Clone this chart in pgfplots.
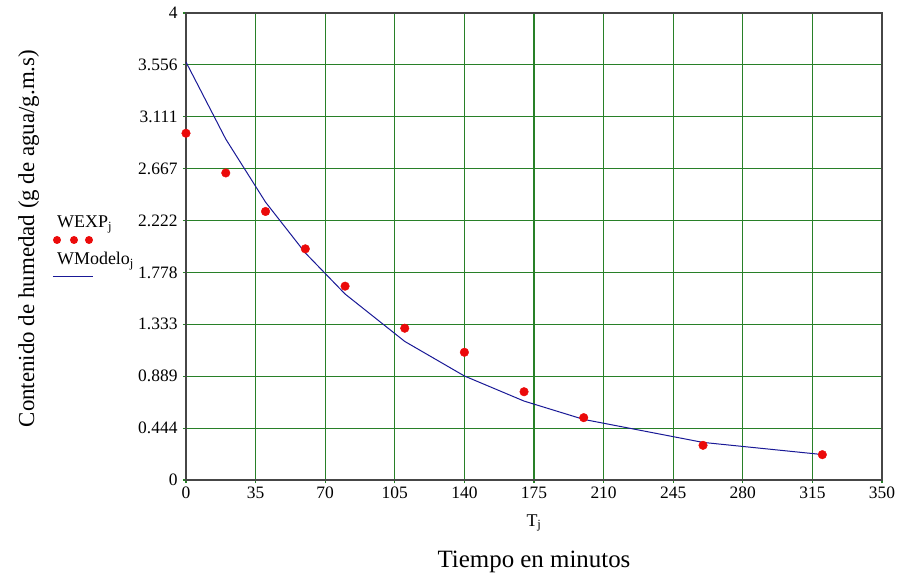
\documentclass[border=0pt]{standalone}
\usepackage{pgfplots}
\pgfplotsset{compat=1.18}
\usepackage{fontspec}
\setmainfont{Liberation Serif}
\definecolor{gridgreen}{RGB}{40,128,40}
\definecolor{modelblue}{RGB}{25,25,150}
\definecolor{ptred}{RGB}{235,10,10}
\definecolor{boxgray}{RGB}{70,70,70}
\begin{document}
\begin{tikzpicture}
\begin{axis}[
  at={(0,0)}, anchor=south west,
  scale only axis, width=696bp, height=467bp,
  xmin=0, xmax=350, ymin=0, ymax=4,
  xtick={0,35,...,350},
  ytick={0,0.4444,0.8889,1.3333,1.7778,2.2222,2.6667,3.1111,3.5556,4},
  yticklabels={0,0.444,0.889,1.333,1.778,2.222,2.667,3.111,3.556,4},
  grid=major,
  major grid style={gridgreen, line width=1.2bp},
  axis line style={boxgray, line width=1.3bp},
  tick style={gridgreen, line width=1.2bp},
  xtick pos=bottom, ytick pos=left,
  tick align=outside, major tick length=3bp,
  /pgf/number format/assume math mode=true,
  tick label style={font=\fontsize{17.5}{20}\selectfont, black},
  yticklabel style={xshift=-2bp},
  ylabel={Contenido de humedad (g de agua/g.m.s)},
  ylabel style={font=\fontsize{23}{26}\selectfont, at={(axis description cs:-0.226,0.517)}, anchor=center},
  clip=true,
]
\addplot[only marks, mark=*, mark size=4.3bp, ptred, mark options={draw=ptred, fill=ptred}] table {
x y
0 2.97
20 2.63
40 2.30
60 1.98
80 1.66
110 1.30
140 1.094
170 0.756
200 0.534
260 0.297
320 0.217
};
\addplot[modelblue, line width=1bp] table {
x y
0 3.58
20 2.92
40 2.38
60 1.945
80 1.593
110 1.187
140 0.891
170 0.676
200 0.519
260 0.322
320 0.218
};
\end{axis}
\node[font=\fontsize{18}{20}\selectfont] at (348bp,-43bp) {T\textsubscript{j}};
\node[font=\fontsize{25}{28}\selectfont] at (348bp,-82bp) {Tiempo en minutos};
% legend
\node[anchor=base west, inner sep=0pt, font=\fontsize{18}{20}\selectfont] at (-129bp,252bp) {WEXP\textsubscript{j}};
\fill[ptred] (-129bp,240bp) circle (4bp);
\fill[ptred] (-112bp,240bp) circle (4bp);
\fill[ptred] (-97bp,240bp) circle (4bp);
\node[anchor=base west, inner sep=0pt, font=\fontsize{18}{20}\selectfont] at (-129bp,215bp) {WModelo\textsubscript{j}};
\draw[modelblue, line width=1bp] (-133bp,203bp) -- (-93bp,203bp);
\pgfresetboundingbox
\path (-186bp,-98bp) rectangle (720bp,480bp);
\end{tikzpicture}
\end{document}
